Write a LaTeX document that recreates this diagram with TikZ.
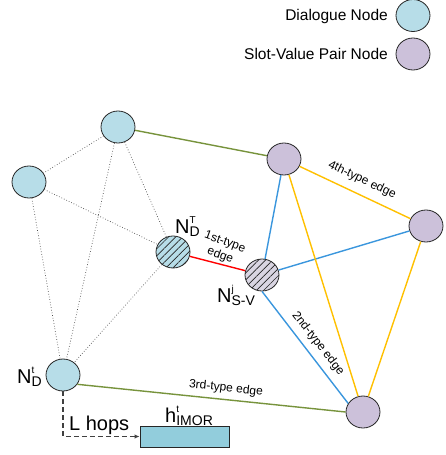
\documentclass[tikz,border=0pt]{standalone}
\usepackage{fontspec}
\setmainfont{Liberation Sans}
\usetikzlibrary{shapes.geometric,patterns.meta,arrows.meta}
\definecolor{dblue}{HTML}{B7DDE8}
\definecolor{spurple}{HTML}{CCC1DA}
\definecolor{sgray}{HTML}{D9D5E2}
\definecolor{hfill}{HTML}{92CDDC}
\definecolor{egreen}{HTML}{77933C}
\definecolor{eblue}{HTML}{3A96DD}
\definecolor{eorange}{HTML}{FFC000}
\definecolor{ered}{HTML}{FF0000}
\newcommand\Lbl[3]{#1\rlap{\raisebox{0.5em}{\fontsize{10}{10}\selectfont #3}}\raisebox{-0.18em}{\fontsize{14}{14}\selectfont #2}}
\begin{document}
\begin{tikzpicture}[x=1pt,y=-1pt,
  gnode/.style={ellipse,draw=black!85,line width=0.8pt,inner sep=0pt,minimum width=34pt,minimum height=32pt},
  dnode/.style={gnode,fill=dblue},
  snode/.style={gnode,fill=spurple},
  hatch/.style={postaction={pattern={Lines[angle=45,distance=5pt,line width=0.7pt]},pattern color=black!85}},
  hbox/.style={draw=black!85,line width=0.9pt,fill=hfill,minimum width=89pt,minimum height=21pt,inner sep=0pt},
  legtext/.style={inner sep=0pt,font=\fontsize{15.5}{18}\selectfont},
  biglbl/.style={inner sep=0pt,font=\fontsize{20}{24}\selectfont},
  elabel/.style={inner sep=0pt,font=\fontsize{12}{14}\selectfont},
  dotedge/.style={draw=black!70,line width=0.7pt,dotted},
  gedge/.style={draw=egreen,line width=1.4pt},
  bedge/.style={draw=eblue,line width=1.4pt},
  oedge/.style={draw=eorange,line width=1.4pt},
  redge/.style={draw=ered,line width=1.4pt},
  dasharrow/.style={draw=black!75,line width=1.2pt,dash pattern=on 5pt off 3pt,-{Latex[length=5pt,width=4.5pt]}}
]
\useasboundingbox (0,0) rectangle (445,455);
% legend
\node[dnode] (legD) at (413,15.5) {};
\node[snode] (legS) at (413,54) {};
\node[legtext,anchor=base east] (legDt) at (388,20.7) {Dialogue Node};
\node[legtext,anchor=base east] (legSt) at (388,59.3) {Slot-Value Pair Node};
% nodes
\node[dnode] (A) at (118,127) {};
\node[dnode] (B) at (29,182) {};
\node[dnode,hatch] (DT) at (173,252) {};
\node[dnode] (Dt) at (63,375) {};
\node[snode] (P1) at (284,159) {};
\node[snode] (P2) at (426,226) {};
\node[snode,fill=sgray,hatch] (SV) at (262,275) {};
\node[snode] (P3) at (363,412) {};
\node[hbox] (H) at (184.5,436.5) {};
% dotted edges
\draw[dotedge] (A) -- (B);
\draw[dotedge] (A) -- (Dt);
\draw[dotedge] (A) -- (DT);
\draw[dotedge] (B) -- (DT);
\draw[dotedge] (B) -- (Dt);
\draw[dotedge] (DT) -- (Dt);
% coloured edges
\draw[gedge] (A) -- (P1);
\draw[gedge] (Dt.-33) -- (P3.west);
\draw[redge] (DT) -- (SV);
\draw[bedge] (SV) -- (P1);
\draw[bedge] (SV) -- (P2);
\draw[bedge] (SV.south) -- (P3.150);
\draw[oedge] (P1) -- (P2);
\draw[oedge] (P1) -- (P3);
\draw[oedge] (P2) -- (P3);
% edge labels
\node[elabel,rotate=-20,align=center] (l1) at (222.5,249) {1st-type\\edge};
\node[elabel,rotate=-25.3] (l4) at (362,180) {4th-type edge};
\node[elabel,rotate=-52] (l2) at (318,343.5) {2nd-type edge};
\node[elabel,rotate=-6] (l3) at (226,388.5) {3rd-type edge};
% node labels
\node[biglbl,anchor=base west] (nDT) at (175,233) {\Lbl{N}{D}{T}};
\node[biglbl,anchor=base west] (nSV) at (217,302) {\Lbl{N}{S-V}{j}};
\node[biglbl,anchor=base west] (nDt) at (17,383) {\Lbl{N}{D}{t}};
\node[biglbl,anchor=base west] (nH) at (165,422) {\Lbl{h}{IMOR}{t}};
\node[biglbl,anchor=base west] (hops) at (69,430) {L hops};
% arrow
\draw[dasharrow] (Dt.south) |- (H.west);
\end{tikzpicture}
\end{document}
